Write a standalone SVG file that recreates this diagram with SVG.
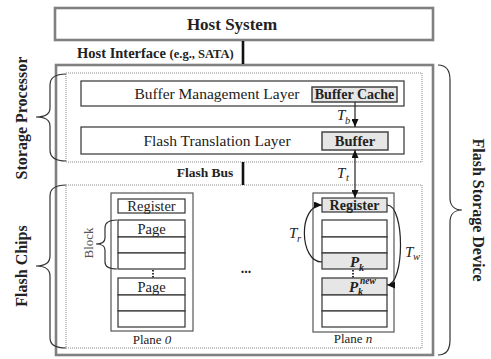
<svg xmlns="http://www.w3.org/2000/svg" width="491" height="359" viewBox="0 0 491 359">
<defs>
<style>
text{font-family:"Liberation Serif","Times New Roman",serif;fill:#222}
.b{font-weight:bold}
.it{font-style:italic}
.gbox{fill:#fff;stroke:#808080;stroke-width:2.6}
.dot{fill:none;stroke:#888;stroke-width:1;stroke-dasharray:1 1}
.layer{fill:#fff;stroke:#333;stroke-width:1.2}
.buf{fill:#e6e6e6;stroke:#444;stroke-width:1.5}
.plane{fill:#fff;stroke:#555;stroke-width:1.2}
.row{fill:#fff;stroke:#333;stroke-width:1.2}
.grow{fill:#e6e6e6;stroke:#333;stroke-width:1.2}
.brace{fill:none;stroke:#333;stroke-width:1.2}
.con{fill:none;stroke:#222;stroke-width:1.2}
.bus{stroke:#111;stroke-width:2.6}
.vdot{stroke:#333;stroke-width:2;stroke-dasharray:1.5 1.5}
</style>
<marker id="ah" markerUnits="userSpaceOnUse" markerWidth="8" markerHeight="7" refX="8" refY="3.5" orient="auto-start-reverse">
<path d="M0,0 L8,3.5 L0,7 z" fill="#111"/>
</marker>
</defs>

<g id="host-system">
<rect class="gbox" x="55" y="8" width="378" height="32"/>
<text class="b" x="232" y="30" font-size="17" text-anchor="middle">Host System</text>
</g>

<g id="flash-storage-device">
<rect class="gbox" x="56" y="65" width="377" height="290"/>
<path class="brace" d="M438,65 C446,65 450,70 450,80 L450,198 C450,205 454,210 462,210 C454,210 450,215 450,222 L450,340 C450,350 446,355 438,355"/>
<text class="b" transform="translate(473,210) rotate(90)" font-size="16" text-anchor="middle">Flash Storage Device</text>
</g>

<g id="storage-processor">
<rect class="dot" x="66" y="73" width="356" height="89"/>
<path class="brace" d="M66,74 C56,74 50,77 50,85 L50,108 C50,114 46,117 36,117 C46,117 50,120 50,126 L50,150 C50,158 56,161 66,161"/>
<text class="b" transform="translate(27,118) rotate(-90)" font-size="16" text-anchor="middle">Storage Processor</text>
</g>

<g id="buffer-management-layer">
<rect class="layer" x="81" y="81" width="323" height="25"/>
<text x="217" y="99" font-size="15.5" text-anchor="middle">Buffer Management Layer</text>
</g>

<g id="buffer-cache">
<rect class="buf" x="312" y="87" width="85" height="15"/>
<text class="b" x="354.5" y="99" font-size="14" text-anchor="middle">Buffer Cache</text>
</g>

<g id="flash-translation-layer">
<rect class="layer" x="81" y="127" width="323" height="27"/>
<text x="217" y="146" font-size="15.5" text-anchor="middle">Flash Translation Layer</text>
</g>

<g id="buffer">
<rect class="buf" x="322" y="132" width="66" height="18"/>
<text class="b" x="355" y="146" font-size="14.5" text-anchor="middle">Buffer</text>
</g>

<g id="flash-chips">
<rect class="dot" x="66" y="185" width="356" height="163"/>
<path class="brace" d="M66,185 C56,185 50,188 50,196 L50,256 C50,262 46,266 36,266 C46,266 50,270 50,276 L50,338 C50,345 56,348 66,348"/>
<text class="b" transform="translate(27,266) rotate(-90)" font-size="16" text-anchor="middle">Flash Chips</text>
<text class="b" x="246" y="273" font-size="14" text-anchor="middle">...</text>
</g>

<g id="plane-0">
<rect class="plane" x="111" y="193" width="82" height="138"/>
<rect class="row" x="118" y="199" width="67" height="14"/>
<text x="151.5" y="210.5" font-size="14.5" text-anchor="middle">Register</text>
<rect class="row" x="118" y="220" width="67" height="17"/>
<rect class="row" x="118" y="237" width="67" height="16"/>
<rect class="row" x="118" y="253" width="67" height="16"/>
<text x="151.5" y="233.5" font-size="14.5" text-anchor="middle">Page</text>
<line class="vdot" x1="153" y1="270" x2="153" y2="278"/>
<rect class="row" x="118" y="278" width="67" height="17"/>
<rect class="row" x="118" y="295" width="67" height="16"/>
<rect class="row" x="118" y="311" width="67" height="16"/>
<text x="151.5" y="291.5" font-size="14.5" text-anchor="middle">Page</text>
<path class="brace" d="M117,220 C109,220 105,222 105,228 L105,238 C105,242 102,244 96,244 C102,244 105,246 105,250 L105,262 C105,267 109,269 117,269"/>
<text transform="translate(93,243) rotate(-90)" font-size="13" style="fill:#555" text-anchor="middle">Block</text>
<text x="152" y="344" font-size="13" text-anchor="middle">Plane <tspan class="it">0</tspan></text>
</g>

<g id="plane-n">
<rect class="plane" x="313" y="193" width="81" height="139"/>
<rect class="grow" x="322" y="198" width="65" height="14"/>
<text class="b" x="354.5" y="210" font-size="14" text-anchor="middle">Register</text>
<rect class="row" x="322" y="220" width="65" height="17"/>
<rect class="row" x="322" y="237" width="65" height="16"/>
<rect class="grow" x="322" y="253" width="65" height="16"/>
<text class="b it" x="350" y="267" font-size="15">P</text>
<text class="b it" x="359" y="271" font-size="10">k</text>
<line class="vdot" x1="353" y1="270" x2="353" y2="278"/>
<rect class="grow" x="322" y="278" width="65" height="17"/>
<rect class="row" x="322" y="295" width="65" height="16"/>
<rect class="row" x="322" y="311" width="65" height="16"/>
<text class="b it" x="349" y="292" font-size="15">P</text>
<text class="b it" x="360" y="283.5" font-size="9.5">new</text>
<text class="b it" x="358" y="295" font-size="10">k</text>
<text x="353" y="343" font-size="13" text-anchor="middle">Plane <tspan class="it">n</tspan></text>
</g>

<g id="connectors">
<line class="bus" x1="243" y1="41" x2="243" y2="64"/>
<text class="b" x="77" y="58"><tspan font-size="14.5">Host Interface </tspan><tspan font-size="12.5">(e.g., SATA)</tspan></text>
<line class="bus" x1="243" y1="162" x2="243" y2="185"/>
<text class="b" x="205" y="177" font-size="13.5" text-anchor="middle">Flash Bus</text>
<line class="con" x1="355" y1="102" x2="355" y2="127" marker-end="url(#ah)"/>
<text class="it" x="337" y="120" font-size="15">T</text>
<text class="it" x="345" y="124" font-size="10.5">b</text>
<line class="con" x1="355" y1="150" x2="355" y2="198" marker-start="url(#ah)" marker-end="url(#ah)"/>
<text class="it" x="337" y="178" font-size="15">T</text>
<text class="it" x="346" y="181" font-size="10.5">t</text>
<path class="con" d="M322,262 C299,262 298,205 322,205" marker-end="url(#ah)"/>
<text class="it" x="289" y="238" font-size="15">T</text>
<text class="it" x="297" y="242" font-size="10.5">r</text>
<path class="con" d="M387,205 C405,205 405,285 387,285" marker-end="url(#ah)"/>
<text class="it" x="405" y="257" font-size="15">T</text>
<text class="it" x="413" y="260" font-size="10.5">w</text>
</g>
</svg>
